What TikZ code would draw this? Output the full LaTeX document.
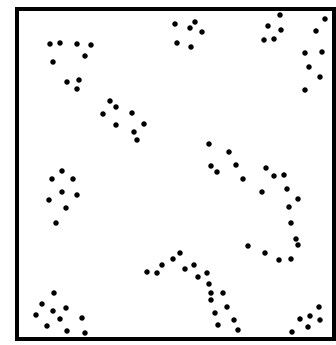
\documentclass[tikz,border=0pt]{standalone}
\usetikzlibrary{positioning}
\tikzset{
  frame/.style = {draw, line width=3.2pt},
  speck/.style = {fill=black, draw=none}
}

\begin{document}
\begin{tikzpicture}[x=1pt, y=-1pt]
  \useasboundingbox (0,0) rectangle (336,345);
  \draw[frame] (17,9) rectangle (334,339);
  % dot clusters
  \foreach \px/\py in {50/44, 60/43, 77/44, 91/45, 85/56, 53/62, 67/82, 79/80, 77/89,
      110/101, 116/107, 103/114, 132/113, 116/125, 144/124, 134/132, 137/140,
      175/24, 195/22, 190/28, 202/32, 177/43, 191/47,
      280/15, 268/26, 281/30, 264/40, 274/39,
      325/19, 316/31, 305/53, 322/52, 309/67, 320/77, 305/90,
      209/144, 229/152, 211/166, 236/165, 217/172, 243/179, 266/168, 274/176, 284/175,
      262/192, 287/189, 298/199, 289/207, 291/223, 296/239, 298/245, 248/246, 265/253,
      279/260, 291/259,
      62/171, 52/179, 73/179, 62/192, 77/195, 49/200, 66/208, 56/223,
      147/272, 157/273, 162/265, 173/259, 180/253, 185/269, 194/265, 198/277, 207/273,
      209/284, 211/293, 211/300, 223/293, 227/307, 215/313, 218/325, 238/330, 234/320,
      54/293, 42/304, 53/311, 66/308, 36/315, 60/319, 82/318, 47/326, 67/331, 85/333,
      319/307, 300/319, 310/316, 320/320, 308/327, 292/332}
    \fill[speck] (\px,\py) circle (2.8);
\end{tikzpicture}
\end{document}
